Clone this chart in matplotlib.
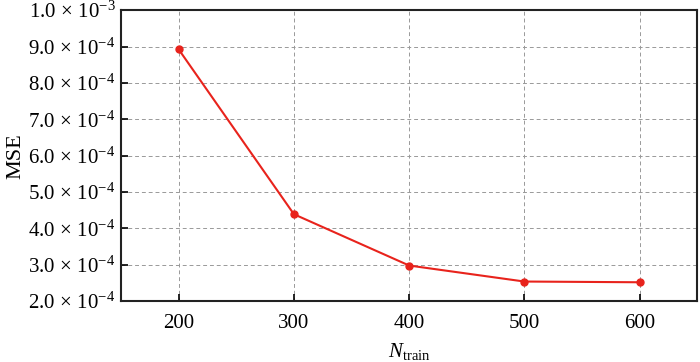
import numpy as np
import matplotlib.pyplot as plt
import matplotlib.ticker as ticker

plt.rcParams['font.family'] = ['Liberation Serif', 'DejaVu Serif']
plt.rcParams['mathtext.fontset'] = 'custom'
plt.rcParams['mathtext.rm'] = 'Liberation Serif'
plt.rcParams['mathtext.it'] = 'Liberation Serif:italic'

# data
n_train = [200, 300, 400, 500, 600]
mse = [8.92e-4, 4.39e-4, 2.98e-4, 2.54e-4, 2.52e-4]
y_ticks = [2e-4, 3e-4, 4e-4, 5e-4, 6e-4, 7e-4, 8e-4, 9e-4, 1e-3]


def sci_fmt(v, pos):
    exp = int(np.floor(np.log10(v) + 1e-9))
    mant = v / 10 ** exp
    return r'$\mathrm{%.1f}\,\times\,\mathrm{10}^{%d}$' % (mant, exp)


fig = plt.figure(figsize=(7, 3.62), dpi=100)
ax = fig.add_axes([0.173, 0.168, 0.823, 0.804])

ax.plot(n_train, mse, color='#e8231c', lw=1.5, marker='o', ms=5, zorder=3)

ax.set_xlim(150, 650)
ax.set_ylim(2e-4, 1e-3)
ax.set_xticks(n_train)
ax.set_yticks(y_ticks)
ax.yaxis.set_major_formatter(ticker.FuncFormatter(sci_fmt))

ax.grid(True, ls=(0, (4, 3)), color='#999999', lw=0.7)
ax.tick_params(direction='in', length=5, width=1.2, labelsize=15)
ax.tick_params(axis='x', pad=9)
ax.tick_params(axis='y', pad=4)
ax.tick_params(top=False, right=False)
for s in ax.spines.values():
    s.set_linewidth(1.5)
    s.set_color('#222222')

ax.set_ylabel('MSE', fontsize=16, labelpad=2)
ax.set_xlabel(r'$N_{\mathrm{train}}$', fontsize=15, labelpad=6)

plt.savefig('out.png')
